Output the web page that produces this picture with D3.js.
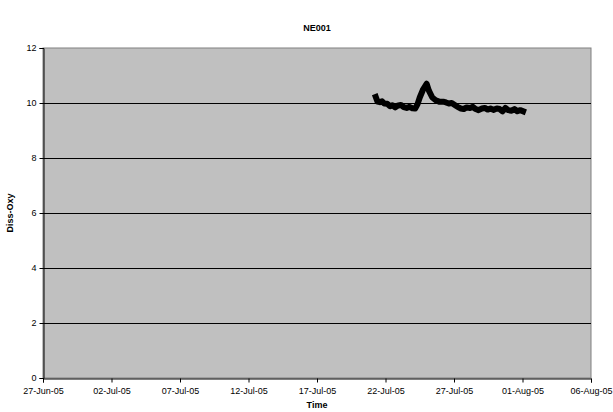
<!DOCTYPE html>
<html><head><meta charset="utf-8">
<script src="https://cdn.jsdelivr.net/npm/d3@7"></script>
<style>body{margin:0;background:#fff}text{font-family:"Liberation Sans",Arial,sans-serif}</style>
</head><body>
<svg id="c" width="613" height="412"></svg>
<script>
const title = "NE001";
const xLabel = "Time";
const yLabel = "Diss-Oxy";
const yTicks = [0, 2, 4, 6, 8, 10, 12];
const xTickDates = ["2005-06-27","2005-07-02","2005-07-07","2005-07-12","2005-07-17","2005-07-22","2005-07-27","2005-08-01","2005-08-06"];
const times = [
 "2005-07-21T07:00","2005-07-21T10:00","2005-07-21T14:00","2005-07-21T18:00","2005-07-21T22:00",
 "2005-07-22T03:00","2005-07-22T08:00","2005-07-22T12:00","2005-07-22T17:00","2005-07-22T21:00",
 "2005-07-23T03:00","2005-07-23T08:00","2005-07-23T13:00","2005-07-23T18:00","2005-07-23T23:00",
 "2005-07-24T04:00","2005-07-24T08:00","2005-07-24T12:00","2005-07-24T18:00",
 "2005-07-25T00:00","2005-07-25T04:00","2005-07-25T10:00","2005-07-25T16:00","2005-07-25T22:00",
 "2005-07-26T05:00","2005-07-26T10:00","2005-07-26T15:00","2005-07-26T20:00",
 "2005-07-27T02:00","2005-07-27T07:00","2005-07-27T12:00","2005-07-27T17:00","2005-07-27T22:00",
 "2005-07-28T04:00","2005-07-28T09:00","2005-07-28T14:00","2005-07-28T19:00",
 "2005-07-29T01:00","2005-07-29T06:00","2005-07-29T11:00","2005-07-29T16:00","2005-07-29T21:00",
 "2005-07-30T03:00","2005-07-30T08:00","2005-07-30T13:00","2005-07-30T18:00","2005-07-30T23:00",
 "2005-07-31T05:00","2005-07-31T10:00","2005-07-31T15:00","2005-07-31T20:00",
 "2005-08-01T01:00"
];
const values = [
 10.22,10.05,10.03,10.06,9.98,
 9.97,9.88,9.92,9.84,9.90,
 9.93,9.85,9.82,9.86,9.81,
 9.80,9.95,10.20,10.50,
 10.70,10.45,10.20,10.10,10.05,
 10.05,10.02,9.98,10.00,
 9.92,9.85,9.80,9.78,9.84,
 9.82,9.86,9.78,9.74,
 9.80,9.82,9.76,9.80,9.75,
 9.80,9.78,9.70,9.82,9.74,
 9.72,9.78,9.70,9.74,
 9.70
];

const svg = d3.select("#c");
const m = {l:43, r:591, t:48, b:378};
const parse = d3.isoParse;
const x = d3.scaleTime().domain([parse(xTickDates[0]), parse(xTickDates[xTickDates.length-1])]).range([m.l, m.r]);
const y = d3.scaleLinear().domain([0, 12]).range([m.b, m.t]);

svg.append("rect").attr("x", m.l).attr("y", m.t).attr("width", m.r-m.l).attr("height", m.b-m.t)
  .attr("fill", "#c0c0c0").attr("stroke", "#808080").attr("stroke-width", 1);

svg.append("g").selectAll("line").data(yTicks.filter(d => d > 0 && d < 12)).join("line")
  .attr("x1", m.l).attr("x2", m.r).attr("y1", d => Math.round(y(d))+0.5).attr("y2", d => Math.round(y(d))+0.5)
  .attr("stroke", "#000").attr("stroke-width", 1);

const fmt = d3.timeFormat("%d-%b-%y");
const xAxis = d3.axisBottom(x).tickValues(xTickDates.map(parse)).tickFormat(fmt).tickSize(4).tickPadding(5);
const gx = svg.append("g").attr("transform", `translate(0,${m.b+0.5})`).call(xAxis);
gx.selectAll("text").attr("font-size", 9).attr("font-family", "Liberation Sans, Arial").attr("fill", "#000");
gx.select(".domain").attr("stroke", "#000");
gx.selectAll(".tick line").attr("stroke", "#000");

const yAxis = d3.axisLeft(y).tickValues(yTicks).tickSize(4).tickPadding(3);
const gy = svg.append("g").attr("transform", `translate(${m.l+0.5},0)`).call(yAxis);
gy.selectAll("text").attr("font-size", 9).attr("font-family", "Liberation Sans, Arial").attr("fill", "#000");
gy.select(".domain").attr("stroke", "#000");
gy.selectAll(".tick line").attr("stroke", "#000");

const data = times.map((t, i) => ({t: parse(t), v: values[i]}));
svg.append("path").datum(data)
  .attr("d", d3.line().x(d => x(d.t)).y(d => y(d.v)))
  .attr("fill", "none").attr("stroke", "#000").attr("stroke-width", 6)
  .attr("stroke-linejoin", "round").attr("stroke-linecap", "square");

svg.append("text").attr("x", (m.l+m.r)/2).attr("y", 31).attr("text-anchor", "middle")
  .attr("font-size", 9).attr("font-weight", "bold").text(title);
svg.append("text").attr("x", (m.l+m.r)/2).attr("y", 408).attr("text-anchor", "middle")
  .attr("font-size", 9).attr("font-weight", "bold").text(xLabel);
svg.append("text").attr("transform", `translate(13,${(m.t+m.b)/2}) rotate(-90)`).attr("text-anchor", "middle")
  .attr("font-size", 9).attr("font-weight", "bold").text(yLabel);
</script>
</body></html>
